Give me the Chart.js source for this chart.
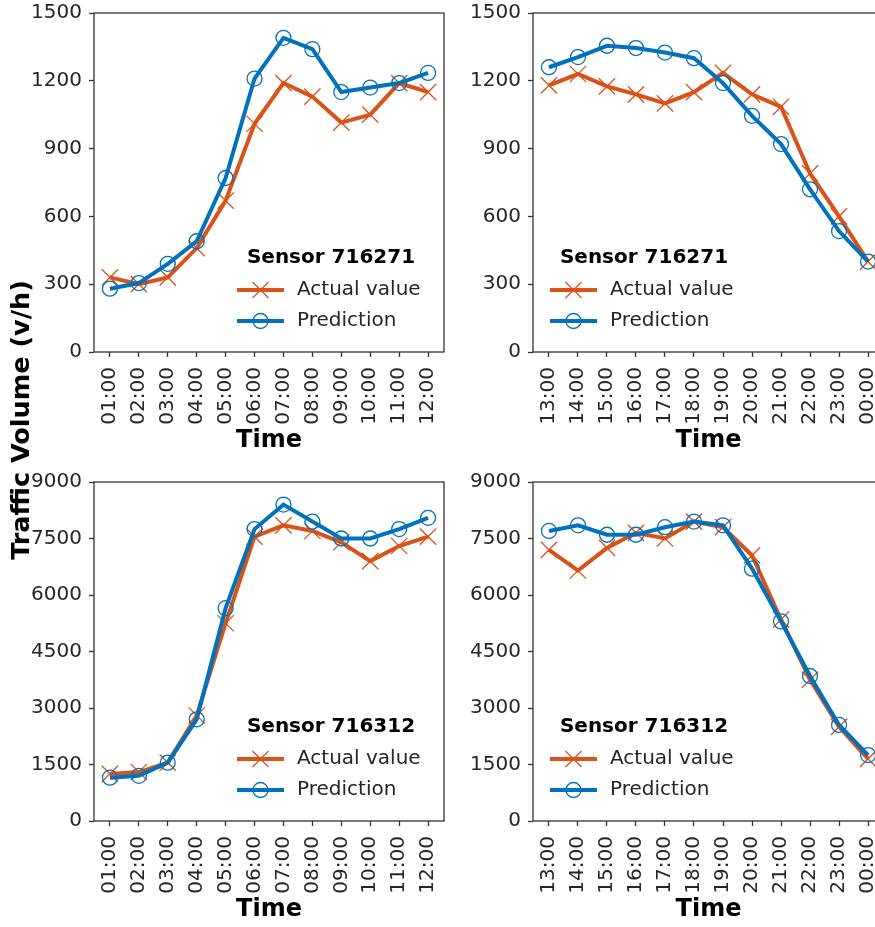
<!DOCTYPE html>
<html>
<head>
<meta charset="utf-8">
<script src="https://cdn.jsdelivr.net/npm/chart.js@4.4.1/dist/chart.umd.min.js"></script>
<style>
    html, body { margin: 0; padding: 0; background: #fff; overflow: hidden; }
    body { width: 875px; height: 927px; position: relative; }
    canvas { position: absolute; }
    #yTitle {
        position: absolute; left: -130px; top: 405px; width: 300px; height: 30px;
        line-height: 30px; text-align: center; transform: rotate(-90deg);
        font: bold 25.5px "DejaVu Sans"; color: #000; white-space: nowrap;
    }
</style>
</head>
<body>
<canvas id="c1" width="450" height="460" style="left:0px;top:0px"></canvas>
<canvas id="c2" width="440" height="460" style="left:450px;top:0px"></canvas>
<canvas id="c3" width="450" height="460" style="left:0px;top:469px"></canvas>
<canvas id="c4" width="440" height="460" style="left:450px;top:469px"></canvas>
<div id="yTitle">Traffic Volume (v/h)</div>
<script>
// tick labels
const hoursAM = ["01:00", "02:00", "03:00", "04:00", "05:00", "06:00", "07:00", "08:00", "09:00", "10:00", "11:00", "12:00"];
const hoursPM = ["13:00", "14:00", "15:00", "16:00", "17:00", "18:00", "19:00", "20:00", "21:00", "22:00", "23:00", "00:00"];

// sensor 716271
const actual271AM = [330, 300, 330, 460, 670, 1010, 1190, 1130, 1015, 1050, 1190, 1150];
const pred271AM = [280, 305, 390, 490, 770, 1210, 1390, 1340, 1150, 1170, 1190, 1235];
const actual271PM = [1180, 1230, 1175, 1140, 1100, 1150, 1235, 1140, 1085, 790, 600, 400];
const pred271PM = [1260, 1305, 1355, 1345, 1325, 1300, 1190, 1045, 920, 720, 535, 400];

// sensor 716312
const actual312AM = [1250, 1300, 1550, 2800, 5250, 7550, 7850, 7700, 7400, 6900, 7300, 7550];
const pred312AM = [1150, 1200, 1550, 2700, 5650, 7750, 8400, 7950, 7500, 7500, 7750, 8050];
const actual312PM = [7200, 6650, 7250, 7650, 7500, 7950, 7800, 7050, 5350, 3750, 2500, 1650];
const pred312PM = [7700, 7850, 7600, 7600, 7800, 7950, 7850, 6700, 5300, 3850, 2550, 1750];

const ORANGE = "#D95319";
const BLUE = "#0072BD";
const TEXT = "#262626";
const SPINE = "#333333";

Chart.defaults.font.family = "DejaVu Sans";
Chart.defaults.color = TEXT;

// draws the box round the plot area (all four spines)
const frame = {
    id: "frame",
    afterDraw(chart) {
        const a = chart.chartArea;
        const ctx = chart.ctx;
        ctx.save();
        ctx.strokeStyle = SPINE;
        ctx.lineWidth = 1.3;
        ctx.strokeRect(a.left, a.top, a.right - a.left, a.bottom - a.top);
        ctx.restore();
    }
};

// matplotlib style legend: bold title + line handles with markers
const sensorLegend = {
    id: "sensorLegend",
    afterDraw(chart, args, opts) {
        const a = chart.chartArea;
        const ctx = chart.ctx;
        let x0;
        if (opts.side === "right") {
            x0 = a.right - 207;
        } else {
            x0 = a.left + 17;
        }
        ctx.save();
        ctx.textBaseline = "middle";
        ctx.fillStyle = "#000";
        ctx.textAlign = "center";
        ctx.font = "bold 20px 'DejaVu Sans'";
        ctx.fillText(opts.title, x0 + 94, a.bottom - 94);

        const rows = [
            { text: "Actual value", color: ORANGE, marker: "x", y: a.bottom - 62 },
            { text: "Prediction", color: BLUE, marker: "o", y: a.bottom - 31 }
        ];
        ctx.textAlign = "left";
        ctx.font = "20px 'DejaVu Sans'";
        rows.forEach(function (r) {
            ctx.strokeStyle = r.color;
            ctx.lineWidth = 4;
            ctx.beginPath();
            ctx.moveTo(x0, r.y);
            ctx.lineTo(x0 + 47, r.y);
            ctx.stroke();
            const cx = x0 + 23.5;
            ctx.lineWidth = 1.3;
            ctx.beginPath();
            if (r.marker === "x") {
                ctx.moveTo(cx - 8, r.y - 8);
                ctx.lineTo(cx + 8, r.y + 8);
                ctx.moveTo(cx - 8, r.y + 8);
                ctx.lineTo(cx + 8, r.y - 8);
            } else {
                ctx.arc(cx, r.y, 7.5, 0, Math.PI * 2);
            }
            ctx.stroke();
            ctx.fillStyle = TEXT;
            ctx.fillText(r.text, x0 + 60, r.y);
        });
        ctx.restore();
    }
};

function makeChart(id, labels, actual, pred, yMax, yStep, yWidth, legendSide, title) {
    const toPoints = (vals) => vals.map((v, i) => ({ x: i, y: v }));
    return new Chart(document.getElementById(id), {
        type: "line",
        data: {
            datasets: [
                {
                    label: "Actual value",
                    data: toPoints(actual),
                    borderColor: ORANGE,
                    borderWidth: 4,
                    pointStyle: "crossRot",
                    pointRadius: 11.5,
                    pointBorderWidth: 1.3,
                    pointBorderColor: ORANGE,
                    pointBackgroundColor: "rgba(0,0,0,0)",
                    tension: 0,
                    order: 2
                },
                {
                    label: "Prediction",
                    data: toPoints(pred),
                    borderColor: BLUE,
                    borderWidth: 4,
                    pointStyle: "circle",
                    pointRadius: 7.5,
                    pointBorderWidth: 1.3,
                    pointBorderColor: BLUE,
                    pointBackgroundColor: "rgba(0,0,0,0)",
                    tension: 0,
                    order: 1
                }
            ]
        },
        options: {
            responsive: false,
            animation: false,
            devicePixelRatio: 1,
            layout: { autoPadding: false, padding: { top: 13, right: 6, left: 0, bottom: 0 } },
            events: [],
            scales: {
                x: {
                    type: "linear",
                    min: -0.55,
                    max: labels.length - 1 + 0.55,
                    afterBuildTicks: (s) => { s.ticks = labels.map((_, i) => ({ value: i })); },
                    afterFit: (s) => {
                        // fixed box so the plot area lands where the reference has it
                        s.height = 108;
                        s.paddingLeft = 0;
                        s.paddingRight = 0;
                    },
                    ticks: {
                        autoSkip: false,
                        minRotation: 90,
                        maxRotation: 90,
                        padding: 10,
                        font: { size: 20 },
                        color: TEXT,
                        callback: (v) => labels[v]
                    },
                    grid: { drawOnChartArea: false, drawTicks: true, tickLength: 5, tickWidth: 1.3, tickColor: SPINE },
                    border: { display: false },
                    title: { display: true, text: "Time", font: { size: 24, weight: "bold" }, color: "#000", padding: { top: 0, bottom: 5 } }
                },
                y: {
                    min: 0,
                    max: yMax,
                    afterFit: (s) => {
                        s.width = yWidth;
                        s.paddingTop = 0;
                        s.paddingBottom = 0;
                    },
                    ticks: { stepSize: yStep, padding: 7, font: { size: 20 }, color: TEXT, callback: (v) => String(v) },
                    grid: { drawOnChartArea: false, drawTicks: true, tickLength: 5, tickWidth: 1.3, tickColor: SPINE },
                    border: { display: false }
                }
            },
            plugins: {
                legend: { display: false },
                tooltip: { enabled: false },
                sensorLegend: { side: legendSide, title: title }
            }
        },
        plugins: [frame, sensorLegend]
    });
}

makeChart("c1", hoursAM, actual271AM, pred271AM, 1500, 300, 94, "right", "Sensor 716271");
makeChart("c2", hoursPM, actual271PM, pred271PM, 1500, 300, 83, "left", "Sensor 716271");
makeChart("c3", hoursAM, actual312AM, pred312AM, 9000, 1500, 94, "right", "Sensor 716312");
makeChart("c4", hoursPM, actual312PM, pred312PM, 9000, 1500, 83, "left", "Sensor 716312");
</script>
</body>
</html>
